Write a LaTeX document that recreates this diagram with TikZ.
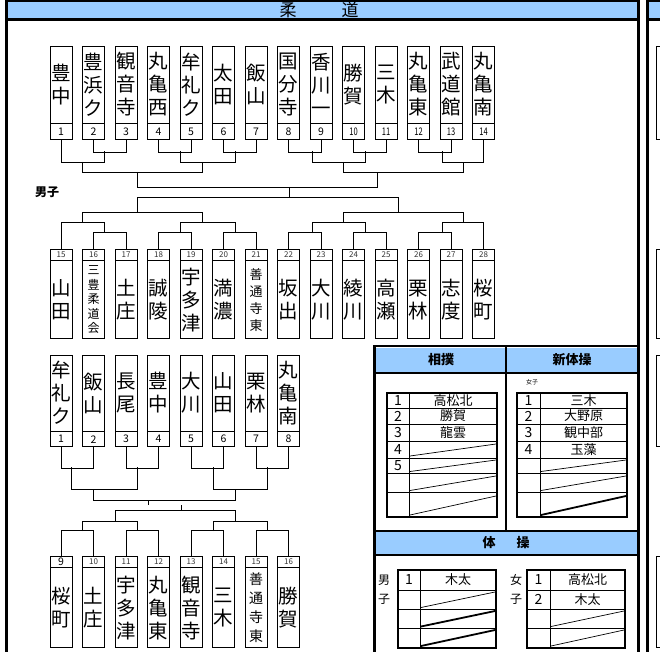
\documentclass[tikz,border=0pt]{standalone}
\usepackage{fontspec}
\usepackage{graphicx}
\setmainfont{Noto Sans CJK JP}
\definecolor{hdr}{RGB}{153,204,255}
\tikzset{
  brk/.style={line width=0.9pt},
  frm/.style={line width=3.4pt},
  namebox/.style={draw, line width=0.7pt, inner sep=0pt, minimum width=22pt, align=center, font=\fontsize{19.5}{23}\selectfont},
  numbox/.style={draw, line width=0.7pt, inner sep=0pt, minimum width=22pt, font=\fontsize{10.5}{11}\selectfont},
  smallnum/.style={numbox, font=\fontsize{8}{9}\selectfont, text=black!80},
  nm/.style={},
  smfive/.style={font=\fontsize{12}{14.6}\selectfont},
  smfour/.style={font=\fontsize{13}{17}\selectfont},
  smfourb/.style={font=\fontsize{14}{19}\selectfont},
  tnum/.style={inner sep=0pt, font=\fontsize{14}{14}\selectfont},
  tname/.style={inner sep=0pt, font=\fontsize{13}{13}\selectfont},
  hd/.style={inner sep=0pt, font=\bfseries\fontsize{13}{13}\selectfont},
  lbl/.style={inner sep=0pt, font=\fontsize{12}{12}\selectfont},
  tline/.style={line width=0.6pt},
  tframe/.style={line width=2.2pt},
  dg/.style={line width=0.7pt},
  dgb/.style={line width=1.8pt}
}
\begin{document}
\begin{tikzpicture}[x=1pt,y=-1pt]
\useasboundingbox (0,0) rectangle (660,652);
% ---------- main frame ----------
\fill[hdr] (8,0) rectangle (637,19);
\draw[line width=1.6pt] (5,0.8) -- (640,0.8);
\draw[frm] (6.6,0) -- (6.6,652);
\draw[frm] (638.5,0) -- (638.5,652);
\draw[line width=3pt] (5,20) -- (640,20);
\node[inner sep=0pt, font=\fontsize{17}{17}\selectfont] (ttla) at (288,10) {柔};
\node[inner sep=0pt, font=\fontsize{17}{17}\selectfont] (ttlb) at (350,10) {道};
% ---------- second panel (cut) ----------
\fill[hdr] (649,0) rectangle (660,19);
\draw[line width=1.6pt] (646,0.8) -- (660,0.8);
\draw[line width=3pt] (647.5,0) -- (647.5,652);
\draw[line width=3pt] (646,20) -- (660,20);
\foreach \ya/\yb in {46/139,249/338,355/446,556/647}
  \draw[line width=0.7pt] (661,\ya) -- (656.5,\ya) -- (656.5,\yb) -- (661,\yb);
% ---------- row 1 ----------
\foreach \i/\t/\s in {1/豊\\中/nm,2/豊\\浜\\ク/nm,3/観\\音\\寺/nm,4/丸\\亀\\西/nm,5/牟\\礼\\ク/nm,6/太\\田/nm,7/飯\\山/nm,8/国\\分\\寺/nm,9/香\\川\\一/nm,10/勝\\賀/nm,11/三\\木/nm,12/丸\\亀\\東/nm,13/武\\道\\館/nm,14/丸\\亀\\南/nm}{
  \node[namebox, \s, minimum height=77pt] (r1b\i) at ({61+32.5*(\i-1)},84.5) {\t};
  \node[numbox, minimum height=16pt, anchor=north] (r1n\i) at (r1b\i.south) {\ifnum\i>9 \scalebox{0.72}[1]{\i}\else\i\fi};
}
\foreach \a/\b in {2/3,4/5,6/7,8/9,10/11,12/13}
  \draw[brk] (r1n\a.south) -- ++(0,12) -| (r1n\b.south);
\draw[brk] (r1n1.south) -- (61,162) -- (104,162) -- (104,151);
\draw[brk] (180,151) |- (235,162) -- (235,151);
\draw[brk] (312,151) |- (365,162) -- (365,151);
\draw[brk] (r1n14.south) -- (483.5,162) -- (442,162) -- (442,151);
\draw[brk] (82,162) |- (202,172) -- (202,162);
\draw[brk] (343,162) |- (463,172) -- (463,162);
\draw[brk] (137,172) |- (377,187) -- (377,172);
\draw[brk] (289,187) -- (289,197);
\node[inner sep=0pt, font=\bfseries\fontsize{12}{12}\selectfont] (boys) at (47,192) {男子};
% ---------- row 2 ----------
\draw[brk] (137,212) |- (398,197) -- (398,212);
\draw[brk] (82,222) |- (202,212) -- (202,222);
\draw[brk] (343,222) |- (463,212) -- (463,222);
\foreach \i/\n/\t/\s in {1/15/山\\田/nm,2/16/三\\豊\\柔\\道\\会/smfive,3/17/土\\庄/nm,4/18/誠\\陵/nm,5/19/宇\\多\\津/nm,6/20/満\\濃/nm,7/21/善\\通\\寺\\東/smfour,8/22/坂\\出/nm,9/23/大\\川/nm,10/24/綾\\川/nm,11/25/高\\瀬/nm,12/26/栗\\林/nm,13/27/志\\度/nm,14/28/桜\\町/nm}{
  \node[smallnum, minimum height=11pt] (r2n\n) at ({61+32.5*(\i-1)},254.5) {\n};
  \node[namebox, \s, minimum height=78pt, anchor=north] (r2b\n) at (r2n\n.south) {\t};
}
\foreach \a/\b in {16/17,18/19,20/21,22/23,24/25,26/27}
  \draw[brk] (r2n\a.north) -- ++(0,-16) -| (r2n\b.north);
\draw[brk] (r2n15.north) -- (61,222) -- (104,222) -- (104,233);
\draw[brk] (180,233) |- (235,222) -- (235,233);
\draw[brk] (312,233) |- (365,222) -- (365,233);
\draw[brk] (442,233) |- (483.5,222) -- (r2n28.north);
% ---------- row 3 ----------
\foreach \i/\t in {1/牟\\礼\\ク,2/飯\\山,3/長\\尾,4/豊\\中,5/大\\川,6/山\\田,7/栗\\林,8/丸\\亀\\南}{
  \node[namebox, minimum height=76pt] (r3b\i) at ({61+32.5*(\i-1)},393) {\t};
  \node[numbox, minimum height=15pt, anchor=north] (r3n\i) at (r3b\i.south) {\i};
}
\foreach \a/\b in {1/2,3/4,5/6,7/8}
  \draw[brk] (r3n\a.south) -- ++(0,21) -| (r3n\b.south);
\draw[brk] (71,467) |- (137,489) -- (137,467);
\draw[brk] (213,467) |- (267,489) -- (267,467);
\draw[brk] (93,489) |- (235,500) -- (235,489);
\draw[brk] (148,500) -- (148,505);
% ---------- row 4 ----------
\draw[brk] (181,505) -- (181,510);
\draw[brk] (115,521) |- (235,510) -- (235,521);
\draw[brk] (82,531) |- (137,521) -- (137,531);
\draw[brk] (213,531) |- (267,521) -- (267,531);
\foreach \i/\n/\t/\s in {1/9/桜\\町/nm,2/10/土\\庄/nm,3/11/宇\\多\\津/nm,4/12/丸\\亀\\東/nm,5/13/観\\音\\寺/nm,6/14/三\\木/nm,7/15/善\\通\\寺\\東/smfourb,8/16/勝\\賀/nm}{
  \node[\ifnum\n>9 smallnum\else numbox\fi, minimum height=11pt] (r4n\n) at ({61+32.5*(\i-1)},561.5) {\n};
  \node[namebox, \s, minimum height=80pt, anchor=north] (r4b\n) at (r4n\n.south) {\t};
}
\foreach \a/\b in {9/10,11/12,13/14,15/16}
  \draw[brk] (r4n\a.north) -- ++(0,-25) -| (r4n\b.north);
% ---------- sub panel ----------
\fill[hdr] (376,347.5) rectangle (637,372);
\fill[hdr] (376,532) rectangle (637,553.5);
\draw[line width=2.8pt] (374.5,345) -- (374.5,652);
\draw[line width=2.4pt] (373,346) -- (640,346);
\draw[line width=2pt] (376,373) -- (637,373);
\draw[line width=2.6pt] (506,346) -- (506,531);
\draw[line width=2.4pt] (376,531) -- (637,531);
\draw[line width=2pt] (376,554.5) -- (637,554.5);
\node[hd] (hsumo) at (441,360) {相撲};
\node[hd] (hrg) at (572,360) {新体操};
\node[hd] (hgya) at (489,543) {体};
\node[hd] (hgyb) at (523,543) {操};
\node[inner sep=0pt, font=\fontsize{6}{6}\selectfont] (girls1) at (532,382) {女子};
% sumo table
\foreach \y in {408,424,441,458,473,492} \draw[tline] (387,\y) -- (497,\y);
\draw[tline] (409,393) -- (409,517);
\foreach \r/\y in {1/400.5,2/416,3/432.5,4/449.5,5/465.5} \node[tnum] (sn\r) at (398,\y) {\r};
\node[tname] (st1) at (453,400.5) {高松北};
\node[tname] (st2) at (453,416) {勝賀};
\node[tname] (st3) at (453,432.5) {龍雲};
\draw[dg] (410,456) -- (496,444);
\draw[dg] (410,471.5) -- (496,460);
\draw[dg] (410,490.5) -- (496,476);
\draw[dg] (410,515) -- (496,496);
\draw[tframe] (387,393) rectangle (497,517);
% rhythmic gymnastics table
\foreach \y in {408,424,441,458,473,492} \draw[tline] (517,\y) -- (627,\y);
\draw[tline] (540,393) -- (540,517);
\foreach \r/\y in {1/400.5,2/416,3/432.5,4/449.5} \node[tnum] (rn\r) at (528.5,\y) {\r};
\node[tname] (rt1) at (583.5,400.5) {三木};
\node[tname] (rt2) at (583.5,416) {大野原};
\node[tname] (rt3) at (583.5,432.5) {観中部};
\node[tname] (rt4) at (583.5,449.5) {玉藻};
\draw[dg] (541,471.5) -- (626,460);
\draw[dg] (541,490.5) -- (626,476);
\draw[dgb] (541,515) -- (626,496);
\draw[tframe] (517,393) rectangle (627,517);
% gymnastics boys
\node[lbl] (gbl1) at (384,580) {男};
\node[lbl] (gbl2) at (384,599) {子};
\foreach \y in {590,609,628} \draw[tline] (398,\y) -- (496,\y);
\draw[tline] (420,570) -- (420,648);
\node[tnum] (gbn1) at (409,580) {1};
\node[tname] (gbt1) at (458,580) {木太};
\draw[dg] (421,607.5) -- (495,592);
\draw[dgb] (421,626.5) -- (495,611);
\draw[dgb] (421,646) -- (495,630);
\draw[tframe] (398,570) rectangle (496,648);
% gymnastics girls
\node[lbl] (ggl1) at (516,580) {女};
\node[lbl] (ggl2) at (516,599) {子};
\foreach \y in {590,609,628} \draw[tline] (527,\y) -- (625,\y);
\draw[tline] (550,570) -- (550,648);
\node[tnum] (ggn1) at (538.5,580) {1};
\node[tname] (ggt1) at (587.5,580) {高松北};
\node[tnum] (ggn2) at (538.5,599.5) {2};
\node[tname] (ggt2) at (587.5,599.5) {木太};
\draw[dg] (551,626.5) -- (624,611);
\draw[dg] (551,646) -- (624,630);
\draw[tframe] (527,570) rectangle (625,648);
\end{tikzpicture}
\end{document}
